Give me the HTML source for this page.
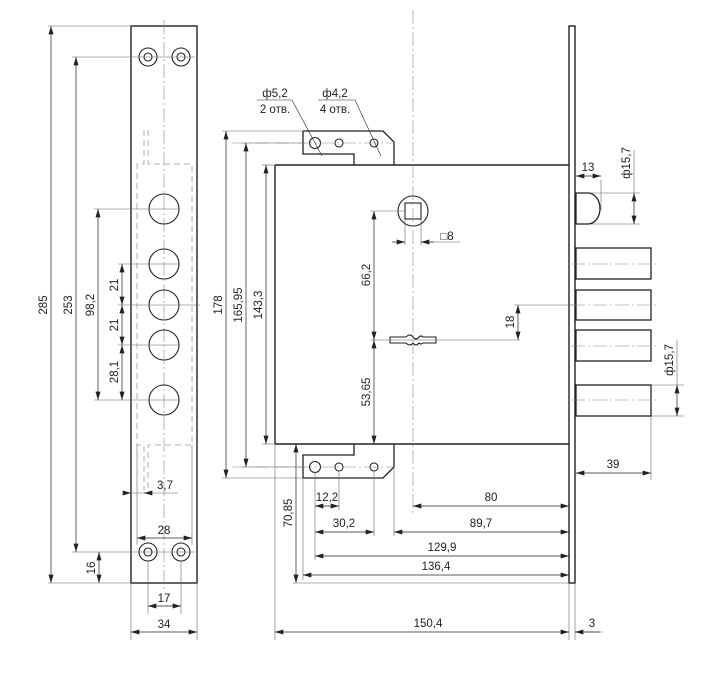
<!DOCTYPE html>
<html><head><meta charset="utf-8"><style>
html,body{margin:0;padding:0;background:#fff}
svg{display:block}
text{font-family:"Liberation Sans",sans-serif;font-size:11.5px;fill:#222}
</style></head><body>
<svg width="703" height="673" viewBox="0 0 703 673" xmlns="http://www.w3.org/2000/svg">
<defs>
<marker id="a" viewBox="0 0 10 6" refX="10" refY="3" markerWidth="9" markerHeight="5" orient="auto-start-reverse" markerUnits="userSpaceOnUse"><path d="M0,0 L10,3 L0,6z" fill="#222"/></marker>
</defs>
<g fill="none" stroke="#222">
<!-- LEFT STRIP -->
<rect x="131" y="26" width="66" height="557" stroke-width="1.4"/>
<line x1="164" y1="20" x2="164" y2="590" stroke="#888" stroke-width="0.6" stroke-dasharray="14,3,2,3"/>
<path d="M144,130 V164 H137 V445 H144 V490 M148,130 V164 H192 V445 H148 V490" stroke="#999" stroke-width="0.8" stroke-dasharray="6,4"/>
<g stroke-width="1.1">
<circle cx="148" cy="57" r="9"/><circle cx="148" cy="57" r="4"/>
<circle cx="181" cy="57" r="9"/><circle cx="181" cy="57" r="4"/>
<circle cx="148" cy="552" r="9"/><circle cx="148" cy="552" r="4"/>
<circle cx="181" cy="552" r="9"/><circle cx="181" cy="552" r="4"/>
<circle cx="164" cy="209" r="15"/><circle cx="164" cy="264" r="15"/>
<circle cx="164" cy="305" r="15"/><circle cx="164" cy="345" r="15"/>
<circle cx="164" cy="400" r="15"/>
</g>
<g stroke="#666" stroke-width="0.6">
<line x1="48" y1="26" x2="131" y2="26"/><line x1="48" y1="583" x2="131" y2="583"/>
<line x1="72" y1="57" x2="195" y2="57"/><line x1="72" y1="552" x2="195" y2="552"/>
<line x1="94" y1="209" x2="180" y2="209"/><line x1="94" y1="400" x2="180" y2="400"/>
<line x1="118" y1="264" x2="180" y2="264"/><line x1="118" y1="305" x2="200" y2="305"/><line x1="118" y1="345" x2="180" y2="345"/>
<line x1="131" y1="583" x2="131" y2="640"/><line x1="197" y1="583" x2="197" y2="640"/>
<line x1="148" y1="560" x2="148" y2="614"/><line x1="181" y1="560" x2="181" y2="614"/>
<line x1="137" y1="445" x2="137" y2="545"/><line x1="192" y1="445" x2="192" y2="545"/>
<line x1="125" y1="493" x2="178" y2="493"/>
</g>
<g stroke-width="0.7" marker-start="url(#a)" marker-end="url(#a)">
<line x1="51" y1="26" x2="51" y2="583"/>
<line x1="76" y1="57" x2="76" y2="552"/>
<line x1="98" y1="209" x2="98" y2="400"/>
<line x1="122" y1="264" x2="122" y2="305"/>
<line x1="122" y1="305" x2="122" y2="345"/>
<line x1="122" y1="345" x2="122" y2="400"/>
<line x1="99" y1="552" x2="99" y2="583"/>
<line x1="137" y1="538" x2="192" y2="538"/>
<line x1="148" y1="606" x2="181" y2="606"/>
<line x1="131" y1="632" x2="197" y2="632"/>
</g>
<line x1="125" y1="493" x2="131" y2="493" stroke-width="0.7" marker-end="url(#a)"/>
<line x1="152" y1="493" x2="144" y2="493" stroke-width="0.7" marker-end="url(#a)"/>

<!-- MAIN BODY -->
<line x1="275" y1="165" x2="569" y2="165" stroke-width="1.4"/>
<line x1="275" y1="444" x2="569" y2="444" stroke-width="1.4"/>
<line x1="275" y1="165" x2="275" y2="444" stroke-width="1.4"/>
<rect x="569" y="26" width="6" height="557" stroke-width="1.4"/>
<path d="M303,131 H383 L394,142 V165 M354,165 V154 H303 V131" stroke-width="1.3"/>
<path d="M354,444 V455 H303 V478 H383 L394,467 V444" stroke-width="1.3"/>
<g stroke-width="1.1">
<circle cx="315" cy="143" r="5.5"/><circle cx="339" cy="143" r="4"/><circle cx="374" cy="143" r="4"/>
<circle cx="315" cy="467" r="5.5"/><circle cx="339" cy="467" r="4"/><circle cx="374" cy="467" r="4"/>
<circle cx="413" cy="211" r="15"/><rect x="405" y="203" width="16" height="16"/>
<path d="M390,337 H406 Q410,333 413,337 Q416,341 419,337 Q421,335 423,337 H436 V343 H423 Q421,345 419,343 Q416,347 413,343 Q410,347 406,343 H390 Z"/>
</g>
<line x1="413" y1="10" x2="413" y2="515" stroke="#888" stroke-width="0.6" stroke-dasharray="14,3,2,3"/>
<line x1="232" y1="143" x2="395" y2="143" stroke="#888" stroke-width="0.6" stroke-dasharray="14,3,2,3"/>
<line x1="232" y1="467" x2="395" y2="467" stroke="#888" stroke-width="0.6" stroke-dasharray="14,3,2,3"/>
<!-- leaders -->
<g stroke-width="0.6">
<line x1="257" y1="100" x2="292" y2="100"/><line x1="292" y1="100" x2="322" y2="156"/>
<line x1="318" y1="100" x2="355" y2="100"/><line x1="355" y1="100" x2="381" y2="156"/>
</g>
<g stroke="#666" stroke-width="0.6">
<line x1="222" y1="131" x2="303" y2="131"/><line x1="222" y1="478" x2="303" y2="478"/>
<line x1="242" y1="143" x2="305" y2="143"/><line x1="242" y1="467" x2="305" y2="467"/>
<line x1="262" y1="165" x2="275" y2="165"/><line x1="262" y1="444" x2="275" y2="444"/>
<line x1="370" y1="211" x2="405" y2="211"/><line x1="370" y1="340" x2="520" y2="340"/>
<line x1="405" y1="219" x2="405" y2="245"/><line x1="421" y1="219" x2="421" y2="245"/>
<line x1="421" y1="242" x2="460" y2="242"/>
<line x1="293" y1="583" x2="569" y2="583"/>
<line x1="275" y1="444" x2="275" y2="640"/>
<line x1="303" y1="478" x2="303" y2="580"/>
<line x1="315" y1="472" x2="315" y2="560"/>
<line x1="339" y1="472" x2="339" y2="510"/>
<line x1="374" y1="472" x2="374" y2="536"/>
<line x1="394" y1="468" x2="394" y2="536"/>
<line x1="569" y1="583" x2="569" y2="640"/><line x1="575" y1="583" x2="575" y2="640"/>
<line x1="575" y1="632" x2="603" y2="632"/>
<line x1="601" y1="180" x2="601" y2="210"/>
<line x1="575" y1="193" x2="640" y2="193"/><line x1="575" y1="224" x2="640" y2="224"/>
<line x1="634" y1="150" x2="634" y2="193"/>
<line x1="651" y1="385" x2="684" y2="385"/><line x1="651" y1="416" x2="684" y2="416"/>
<line x1="677" y1="340" x2="677" y2="385"/>
<line x1="651" y1="416" x2="651" y2="480"/>
<line x1="514" y1="305" x2="575" y2="305"/>
</g>
<g stroke-width="0.7" marker-start="url(#a)" marker-end="url(#a)">
<line x1="226" y1="131" x2="226" y2="478"/>
<line x1="246" y1="143" x2="246" y2="467"/>
<line x1="266" y1="165" x2="266" y2="444"/>
<line x1="374" y1="211" x2="374" y2="340"/>
<line x1="374" y1="340" x2="374" y2="444"/>
<line x1="296" y1="444" x2="296" y2="583"/>
<line x1="413" y1="506" x2="569" y2="506"/>
<line x1="315" y1="506" x2="339" y2="506"/>
<line x1="315" y1="532" x2="374" y2="532"/>
<line x1="394" y1="532" x2="569" y2="532"/>
<line x1="315" y1="556" x2="569" y2="556"/>
<line x1="303" y1="575" x2="569" y2="575"/>
<line x1="275" y1="632" x2="569" y2="632"/>
<line x1="576" y1="176" x2="601" y2="176"/>
<line x1="634" y1="193" x2="634" y2="224"/>
<line x1="518" y1="305" x2="518" y2="340"/>
<line x1="677" y1="385" x2="677" y2="416"/>
<line x1="576" y1="473" x2="651" y2="473"/>
</g>
<line x1="392" y1="242" x2="405" y2="242" stroke-width="0.7" marker-end="url(#a)"/>
<line x1="434" y1="242" x2="421" y2="242" stroke-width="0.7" marker-end="url(#a)"/>
<line x1="600" y1="632" x2="575" y2="632" stroke-width="0.7" marker-end="url(#a)"/>

<!-- bolts -->
<g stroke-width="1.3">
<path d="M576,193 H588 A12,15.5 0 0 1 588,224 H576 Z"/>
<rect x="576" y="248" width="75" height="31"/>
<rect x="576" y="290" width="75" height="30"/>
<rect x="576" y="330" width="75" height="31"/>
<rect x="576" y="385" width="75" height="31"/>
</g>
<g stroke="#888" stroke-width="0.6" stroke-dasharray="14,3,2,3">
<line x1="571" y1="264" x2="656" y2="264"/>
<line x1="571" y1="305" x2="656" y2="305"/>
<line x1="571" y1="346" x2="656" y2="346"/>
<line x1="571" y1="400" x2="656" y2="400"/>
</g>
</g>

<!-- TEXT -->
<g text-anchor="middle">
<text transform="translate(47,305) rotate(-90)">285</text>
<text transform="translate(72,305) rotate(-90)">253</text>
<text transform="translate(94,305) rotate(-90)">98,2</text>
<text transform="translate(118,285) rotate(-90)">21</text>
<text transform="translate(118,325) rotate(-90)">21</text>
<text transform="translate(118,372) rotate(-90)">28,1</text>
<text transform="translate(95,568) rotate(-90)">16</text>
<text x="165" y="489">3,7</text>
<text x="164" y="534">28</text>
<text x="164" y="602">17</text>
<text x="164" y="628">34</text>
<text transform="translate(222,305) rotate(-90)">178</text>
<text transform="translate(242,305) rotate(-90)">165,95</text>
<text transform="translate(262,305) rotate(-90)">143,3</text>
<text transform="translate(370,275) rotate(-90)">66,2</text>
<text transform="translate(370,392) rotate(-90)">53,65</text>
<text transform="translate(292,513) rotate(-90)">70,85</text>
<text transform="translate(514,322) rotate(-90)">18</text>
<text x="275" y="97">ф5,2</text>
<text x="275" y="113">2 отв.</text>
<text x="335" y="97">ф4,2</text>
<text x="335" y="113">4 отв.</text>
<text x="447" y="240">□8</text>
<text x="491" y="501">80</text>
<text x="327" y="501">12,2</text>
<text x="344" y="527">30,2</text>
<text x="481" y="527">89,7</text>
<text x="442" y="551">129,9</text>
<text x="436" y="570">136,4</text>
<text x="428" y="627">150,4</text>
<text x="592" y="627">3</text>
<text x="588" y="171">13</text>
<text x="613" y="468">39</text>
<text transform="translate(630,163) rotate(-90)">ф15,7</text>
<text transform="translate(673,360) rotate(-90)">ф15,7</text>
</g>
</svg>
</body></html>
